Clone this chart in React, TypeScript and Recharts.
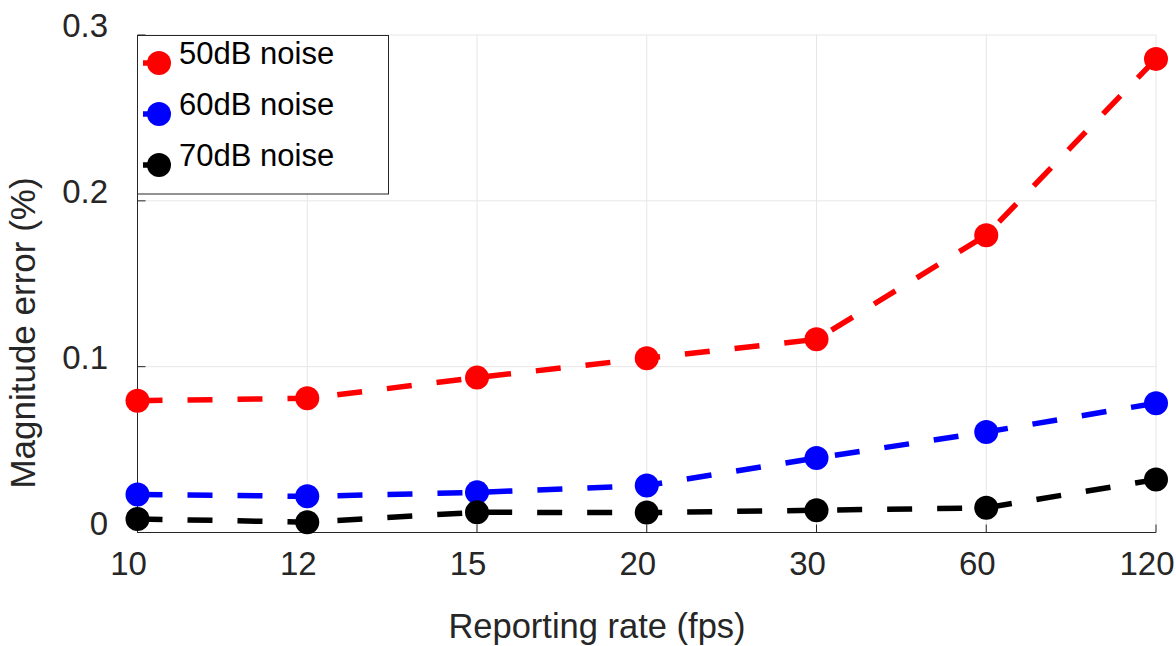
import { LineChart, Line, XAxis, YAxis, CartesianGrid } from 'recharts';

// reporting rates (category axis, evenly spaced)
const rates = ['10', '12', '15', '20', '30', '60', '120'];

// magnitude error (%) per noise level
const noise50 = [0.0795, 0.0809, 0.0934, 0.1051, 0.1165, 0.1793, 0.2856];
const noise60 = [0.0229, 0.0218, 0.0242, 0.0283, 0.0449, 0.0606, 0.078];
const noise70 = [0.0082, 0.0062, 0.0122, 0.012, 0.0134, 0.0149, 0.0319];

const yTicks = [0, 0.1, 0.2, 0.3];

const seriesInfo = [
  { key: 'n50', name: '50dB noise', color: '#ff0000', values: noise50 },
  { key: 'n60', name: '60dB noise', color: '#0000ff', values: noise60 },
  { key: 'n70', name: '70dB noise', color: '#000000', values: noise70 },
];

const data = rates.map((r, i) => ({
  rate: r,
  n50: noise50[i],
  n60: noise60[i],
  n70: noise70[i],
}));

const W = 1176;
const H = 646;
const FONT = '"Liberation Sans", Arial, Helvetica, sans-serif';
const AXIS = '#262626';

export default function App() {
  return (
    <div style={{ position: 'absolute', left: 0, top: 0, width: W, height: H, background: '#fff' }}>
      <LineChart
        width={W}
        height={H}
        data={data}
        margin={{ top: 35, right: 20, left: 37.5, bottom: 53.5 }}
      >
        <CartesianGrid stroke="#e6e6e6" strokeWidth={1} />

        <XAxis
          dataKey="rate"
          height={60}
          tickSize={-8}
          tickMargin={27}
          axisLine={{ stroke: AXIS, strokeWidth: 1 }}
          tickLine={{ stroke: AXIS }}
          tick={{ fill: AXIS, fontSize: 33, fontFamily: FONT, dx: -9 }}
          interval={0}
        />
        <XAxis
          xAxisId="top"
          dataKey="rate"
          orientation="top"
          height={0}
          mirror
          tickSize={8}
          tick={false}
          axisLine={{ stroke: AXIS, strokeWidth: 1 }}
          tickLine={{ stroke: AXIS }}
          interval={0}
        />
        <YAxis
          width={100}
          domain={[0, 0.3]}
          ticks={yTicks}
          tickSize={-8}
          tickMargin={37.5}
          axisLine={{ stroke: AXIS, strokeWidth: 1 }}
          tickLine={{ stroke: AXIS }}
          tick={{ fill: AXIS, fontSize: 33, fontFamily: FONT, dy: -9.5 }}
          tickFormatter={(v: number) => (v === 0 ? '0' : String(v))}
        />
        <YAxis
          yAxisId="right"
          orientation="right"
          width={0}
          mirror
          domain={[0, 0.3]}
          ticks={yTicks}
          tickSize={8}
          tick={false}
          axisLine={{ stroke: AXIS, strokeWidth: 1 }}
          tickLine={{ stroke: AXIS }}
        />

        {seriesInfo.map(s => (
          <Line
            key={s.key}
            dataKey={s.key}
            name={s.name}
            type="linear"
            stroke={s.color}
            strokeWidth={5.5}
            strokeDasharray="25 25"
            dot={{ r: 12, fill: s.color, stroke: s.color, strokeWidth: 0 }}
            activeDot={false}
            isAnimationActive={false}
          />
        ))}
      </LineChart>

      {/* axis titles and legend box drawn on top */}
      <svg
        width={W}
        height={H}
        style={{ position: 'absolute', left: 0, top: 0, pointerEvents: 'none' }}
        fontFamily={FONT}
      >
        <text x={597} y={638} textAnchor="middle" fontSize={34.5} fill={AXIS}>
          Reporting rate (fps)
        </text>
        <text
          transform="translate(35,333) rotate(-90)"
          textAnchor="middle"
          fontSize={35}
          fill={AXIS}
        >
          Magnitude error (%)
        </text>

        <rect x={137.5} y={35.5} width={251} height={158.5} fill="#fff" stroke={AXIS} strokeWidth={1} />
        {seriesInfo.map((s, i) => {
          const cy = 63 + i * 51;
          return (
            <g key={s.key}>
              <line x1={143} y1={cy} x2={159} y2={cy} stroke={s.color} strokeWidth={5.5} />
              <circle cx={159} cy={cy} r={12} fill={s.color} />
              <text x={179} y={cy + 1} fontSize={31} fill="#000">
                {s.name}
              </text>
            </g>
          );
        })}
      </svg>
    </div>
  );
}
